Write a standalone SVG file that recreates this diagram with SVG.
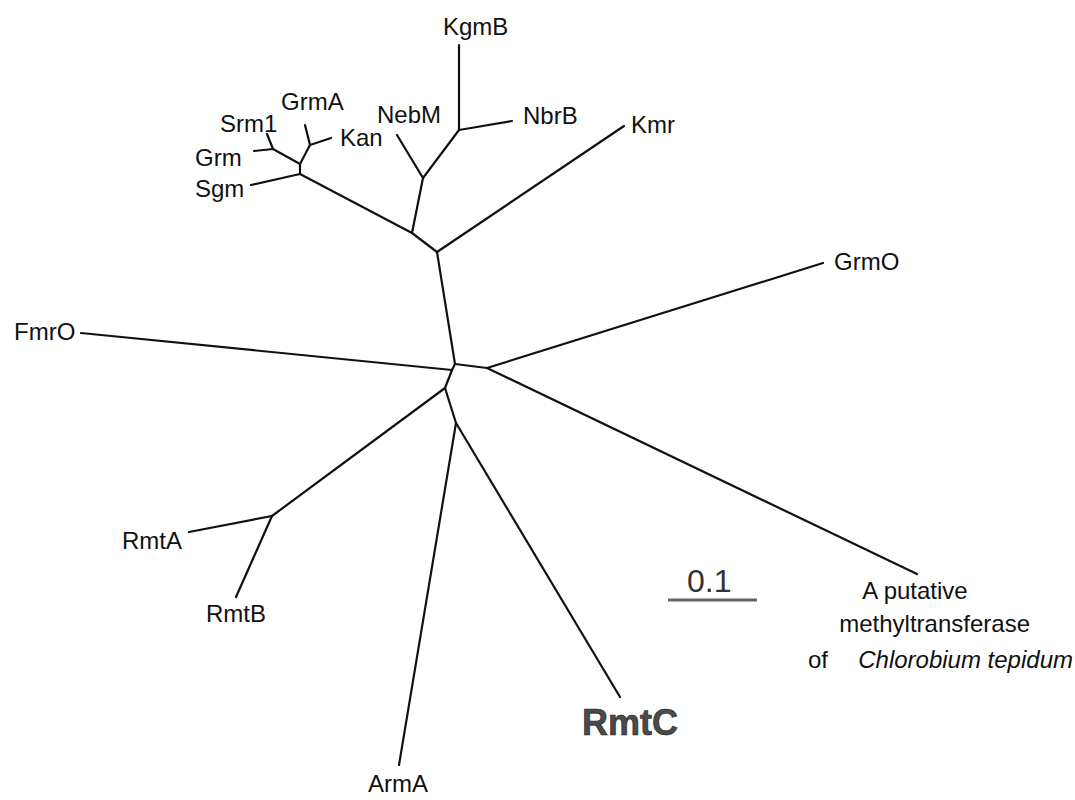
<svg xmlns="http://www.w3.org/2000/svg" width="1075" height="800" viewBox="0 0 1075 800">
  <style>
    .br { stroke: #111; stroke-width: 2.2; fill: none; stroke-linecap: round; stroke-linejoin: round; }
    .lb { font-family: "Liberation Sans", Arial, sans-serif; font-size: 24px; fill: #111; }
    .big { font-family: "Liberation Sans", Arial, sans-serif; font-size: 36px; font-weight: bold; fill: #4a4a4a; stroke: #222; stroke-width: 0.6; }
    .sc { font-family: "Liberation Sans", Arial, sans-serif; font-size: 32px; fill: #333; }
  </style>
  <rect width="1075" height="800" fill="#fff"/>

  <!-- tree branches -->
  <g id="connectors">
    <!-- central backbone -->
    <polyline class="br" points="437,252 455,364"/>
    <polyline class="br" points="455,364 487,368"/>
    <polyline class="br" points="455,364 452,370"/>
    <polyline class="br" points="452,370 445,388"/>
    <polyline class="br" points="445,388 456,423"/>
    <!-- upper clade -->
    <polyline class="br" points="437,252 412,233"/>
    <polyline class="br" points="437,252 624,126"/>
    <polyline class="br" points="412,233 300,174"/>
    <polyline class="br" points="412,233 423,178"/>
    <polyline class="br" points="423,178 397,135"/>
    <polyline class="br" points="423,178 459,130"/>
    <polyline class="br" points="459,130 459,45"/>
    <polyline class="br" points="459,130 512,121"/>
    <polyline class="br" points="300,174 251,185"/>
    <polyline class="br" points="300,174 300,164"/>
    <polyline class="br" points="300,164 273,149"/>
    <polyline class="br" points="300,164 310,145"/>
    <polyline class="br" points="273,149 267,134"/>
    <polyline class="br" points="273,149 254,151"/>
    <polyline class="br" points="310,145 305,125"/>
    <polyline class="br" points="310,145 331,138"/>
    <!-- right clade -->
    <polyline class="br" points="487,368 823,263"/>
    <polyline class="br" points="487,368 917,574"/>
    <!-- FmrO -->
    <polyline class="br" points="452,370 81,333"/>
    <!-- lower clades -->
    <polyline class="br" points="445,388 272,516"/>
    <polyline class="br" points="272,516 189,532"/>
    <polyline class="br" points="272,516 236,597"/>
    <polyline class="br" points="456,423 399,765"/>
    <polyline class="br" points="456,423 620,697"/>
  </g>

  <g id="KgmB"><text class="lb" x="443" y="35">KgmB</text></g>
  <g id="NebM"><text class="lb" x="377" y="123">NebM</text></g>
  <g id="NbrB"><text class="lb" x="523" y="124">NbrB</text></g>
  <g id="GrmA"><text class="lb" x="281" y="110">GrmA</text></g>
  <g id="Srm1"><text class="lb" x="220" y="132">Srm1</text></g>
  <g id="Kan"><text class="lb" x="340" y="146">Kan</text></g>
  <g id="Grm"><text class="lb" x="195" y="166">Grm</text></g>
  <g id="Sgm"><text class="lb" x="195" y="197">Sgm</text></g>
  <g id="Kmr"><text class="lb" x="631" y="133">Kmr</text></g>
  <g id="GrmO"><text class="lb" x="834" y="270">GrmO</text></g>
  <g id="FmrO"><text class="lb" x="14" y="340">FmrO</text></g>
  <g id="RmtA"><text class="lb" x="122" y="549">RmtA</text></g>
  <g id="RmtB"><text class="lb" x="206" y="622">RmtB</text></g>
  <g id="ArmA"><text class="lb" x="368" y="792">ArmA</text></g>
  <g id="RmtC"><text class="big" x="582" y="735">RmtC</text></g>
  <g id="Chlorobium">
    <text class="lb" x="915" y="599" text-anchor="middle">A putative</text>
    <text class="lb" x="1030" y="632" text-anchor="end">methyltransferase</text>
    <text class="lb" x="808" y="668">of</text>
    <text class="lb" x="1073" y="668" text-anchor="end" font-style="italic" font-size="25">Chlorobium tepidum</text>
  </g>

  <!-- scale bar -->
  <g id="scale">
    <text class="sc" x="687" y="592">0.1</text>
    <line x1="668" y1="600" x2="757" y2="600" stroke="#666" stroke-width="3"/>
  </g>
</svg>
